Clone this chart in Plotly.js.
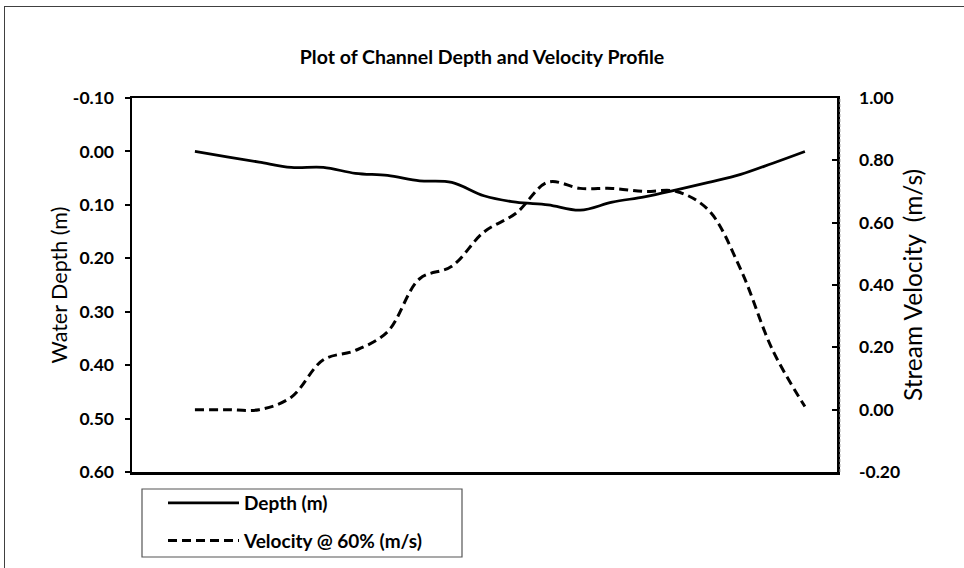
<!DOCTYPE html>
<html>
<head>
<meta charset="utf-8">
<script src="https://cdn.plot.ly/plotly-3.0.1.min.js"></script>
<style>
  html, body { margin: 0; padding: 0; background: #fff; overflow: hidden; }
  #wrap { position: relative; width: 964px; height: 568px; overflow: hidden; }
  #chart { position: absolute; left: 0; top: 0; width: 964px; height: 600px; }
  #frame { position: absolute; left: 4px; top: 6px; width: 1000px; height: 600px;
           border: 1.5px solid #404040; pointer-events: none; }
</style>
</head>
<body>
<div id="wrap">
  <div id="chart"></div>
  <div id="frame"></div>
</div>
<script>
const stations = [1, 2, 3, 4, 5, 6, 7, 8, 9, 10, 11, 12, 13, 14, 15, 16, 17, 18, 19, 20];
const depth = [0.00, 0.01, 0.02, 0.03, 0.03, 0.041, 0.045, 0.055, 0.058, 0.083, 0.095, 0.10, 0.11, 0.095, 0.085, 0.072, 0.058, 0.043, 0.022, 0.00];
const velocity = [0.00, 0.00, 0.00, 0.04, 0.16, 0.19, 0.25, 0.42, 0.46, 0.57, 0.63, 0.73, 0.71, 0.71, 0.70, 0.70, 0.64, 0.45, 0.19, 0.01];
const seriesNames = ['Depth (m)', 'Velocity @ 60% (m/s)'];
const depthTicks = [-0.10, 0.00, 0.10, 0.20, 0.30, 0.40, 0.50, 0.60];
const velTicks = [-0.20, 0.00, 0.20, 0.40, 0.60, 0.80, 1.00];

const FONT = 'Lato, "Open Sans", sans-serif';
const W = 964, H = 600;          // figure drawn slightly taller than the 568px window (bottom is clipped)
const PL = 132, PR = 837, PT = 98, PB = 472;
const px = x => (x - PL) / (PR - PL);
const py = y => (PB - y) / (PB - PT);

const traces = [
  {
    x: stations, y: depth, name: seriesNames[0], type: 'scatter', mode: 'lines',
    yaxis: 'y', legendgroup: 'a',
    line: { color: '#000', width: 2.75, shape: 'spline', smoothing: 1 }
  },
  {
    x: stations, y: velocity, name: seriesNames[1], type: 'scatter', mode: 'lines',
    yaxis: 'y2', legendgroup: 'b',
    line: { color: '#000', width: 3, shape: 'spline', smoothing: 1, dash: '9px,5px' }
  }
];

const layout = {
  width: W, height: H,
  margin: { l: PL, r: W - PR, t: PT, b: H - PB },
  paper_bgcolor: '#fff', plot_bgcolor: '#fff',
  font: { family: FONT, color: '#000' },
  showlegend: true,
  title: {
    text: '<b>Plot of Channel Depth and Velocity Profile</b>',
    font: { family: FONT, size: 19.5, color: '#000' },
    x: 0.5, xanchor: 'center', y: 1 - 57 / H, yanchor: 'middle'
  },
  xaxis: {
    range: [-0.96, 21], showgrid: false, zeroline: false,
    showticklabels: false, ticks: '',
    showline: true, mirror: true, linecolor: '#000', linewidth: 2.5
  },
  yaxis: {
    range: [0.60, -0.10], tickvals: depthTicks, ticktext: depthTicks.map(v => v.toFixed(2)),
    showgrid: false, zeroline: false,
    ticks: 'outside', ticklen: 5, tickwidth: 2, tickcolor: '#000',
    ticklabelstandoff: 7,
    tickfont: { family: FONT, size: 17.5, color: '#000', weight: 'bold' },
    showline: true, linecolor: '#000', linewidth: 2.5,
    title: { text: 'Water Depth (m)', font: { family: FONT, size: 21.5, color: '#000' }, standoff: 0 }
  },
  yaxis2: {
    range: [-0.20, 1.00], tickvals: velTicks, ticktext: velTicks.map(v => v.toFixed(2)),
    overlaying: 'y', side: 'right',
    showgrid: false, zeroline: false,
    ticks: 'inside', ticklen: 5, tickwidth: 2, tickcolor: '#000',
    ticklabelstandoff: 16,
    tickfont: { family: FONT, size: 17.5, color: '#000', weight: 'bold' },
    showline: true, linecolor: '#000', linewidth: 2.5,
    title: { text: 'Stream Velocity \u00a0(m/s)', font: { family: FONT, size: 24.5, color: '#000' }, standoff: 6 }
  },
  legend: {
    x: px(163), y: py(484), xanchor: 'left', yanchor: 'top',
    bgcolor: 'rgba(0,0,0,0)', borderwidth: 0,
    itemwidth: 71, tracegroupgap: 10,
    font: { family: FONT, size: 19, color: '#000', weight: 'bold' }
  },
  shapes: [
    {
      type: 'rect', xref: 'paper', yref: 'paper',
      x0: px(142), x1: px(462), y0: py(557), y1: py(489),
      line: { color: '#555', width: 1.2 }, fillcolor: 'rgba(0,0,0,0)', layer: 'below'
    },
    {
      type: 'line', xref: 'paper', yref: 'paper',
      x0: px(840), x1: px(840), y0: 0, y1: 1,
      line: { color: '#aaa', width: 1, dash: '3px,2px' }
    }
  ]
};

Plotly.newPlot('chart', traces, layout, { displayModeBar: false, staticPlot: true });
</script>
</body>
</html>
